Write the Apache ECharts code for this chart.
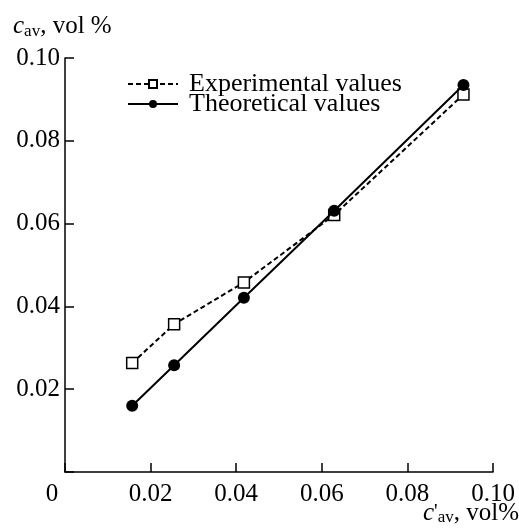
<!DOCTYPE html>
<html><head><meta charset="utf-8">
<script src="https://cdn.jsdelivr.net/npm/echarts@6/dist/echarts.min.js"></script>
<style>html,body{margin:0;padding:0;background:#fff}#c{width:519px;height:531px}</style>
</head><body><div id="c"></div>
<script>
const xExp = [0.0157, 0.0255, 0.0418, 0.0629, 0.0931];
const yExp = [0.0263, 0.0357, 0.0458, 0.0621, 0.0912];
const xTheo = [0.0157, 0.0255, 0.0418, 0.0629, 0.0931];
const yTheo = [0.0160, 0.0258, 0.0421, 0.0631, 0.0935];
const seriesNames = ['Experimental values', 'Theoretical values'];
const F = '"Liberation Serif", "DejaVu Serif", serif';

const chart = echarts.init(document.getElementById('c'));
chart.setOption({
  animation: false,
  backgroundColor: '#fff',
  grid: { left: 65, right: 26, top: 58, bottom: 59, outerBoundsMode: 'none', containLabel: false },
  legend: {
    left: 122, top: 66, orient: 'vertical', itemGap: -6, itemWidth: 50, itemHeight: 10,
    textStyle: { fontFamily: F, fontSize: 26, color: '#000', padding: [0,0,0,6] },
    data: seriesNames
  },
  xAxis: {
    type: 'value', min: 0, max: 0.1, interval: 0.02,
    axisLine: { lineStyle: { color: '#000', width: 1.5 } },
    axisTick: { inside: true, length: 9, lineStyle: { color: '#000', width: 1.5 } },
    splitLine: { show: false },
    axisLabel: {
      margin: 10, color: '#000', fontFamily: F, fontSize: 25,
      formatter: v => v === 0 ? '{z|0}' : v.toFixed(2),
      rich: { z: { fontFamily: F, fontSize: 25, color: '#000', padding: [0, 26, 0, 0] } }
    },
    name: '{i|c}{p|\'}{s|av}{n|, vol%}',
    nameLocation: 'end', nameGap: 26, nameMoveOverlap: false,
    nameTextStyle: {
      align: 'right', verticalAlign: 'middle', padding: [82, 0, 0, 0],
      rich: {
        i: { fontFamily: F, fontStyle: 'italic', fontSize: 25, color: '#000' },
        p: { fontFamily: F, fontSize: 20, color: '#000' },
        s: { fontFamily: F, fontSize: 17, color: '#000', padding: [10, 0, 0, 0] },
        n: { fontFamily: F, fontSize: 25, color: '#000' }
      }
    }
  },
  yAxis: {
    type: 'value', min: 0, max: 0.1, interval: 0.02,
    axisLine: { show: true, lineStyle: { color: '#000', width: 1.5 } },
    axisTick: { show: true, inside: true, length: 9, lineStyle: { color: '#000', width: 1.5 } },
    splitLine: { show: false },
    axisLabel: {
      margin: 5, color: '#000', fontFamily: F, fontSize: 25,
      formatter: v => v === 0 ? '' : v.toFixed(2)
    },
    name: '{i|c}{s|av}{n|, vol %}',
    nameLocation: 'end', nameGap: 18,
    nameTextStyle: {
      align: 'left', padding: [0, 0, 0, -52],
      rich: {
        i: { fontFamily: F, fontStyle: 'italic', fontSize: 25, color: '#000' },
        s: { fontFamily: F, fontSize: 17, color: '#000', padding: [10, 0, 0, 0] },
        n: { fontFamily: F, fontSize: 25, color: '#000' }
      }
    }
  },
  series: [
    {
      name: seriesNames[0], type: 'line',
      data: xExp.map((x, i) => [x, yExp[i]]),
      symbol: 'rect', symbolSize: 11,
      itemStyle: { color: '#fff', borderColor: '#000', borderWidth: 1.5 },
      lineStyle: { color: '#000', width: 2, type: [5, 3] },
      z: 2
    },
    {
      name: seriesNames[1], type: 'line',
      data: xTheo.map((x, i) => [x, yTheo[i]]),
      symbol: 'circle', symbolSize: 12,
      itemStyle: { color: '#000', borderColor: '#000', borderWidth: 0 },
      lineStyle: { color: '#000', width: 2 },
      z: 3
    }
  ]
});
</script></body></html>
